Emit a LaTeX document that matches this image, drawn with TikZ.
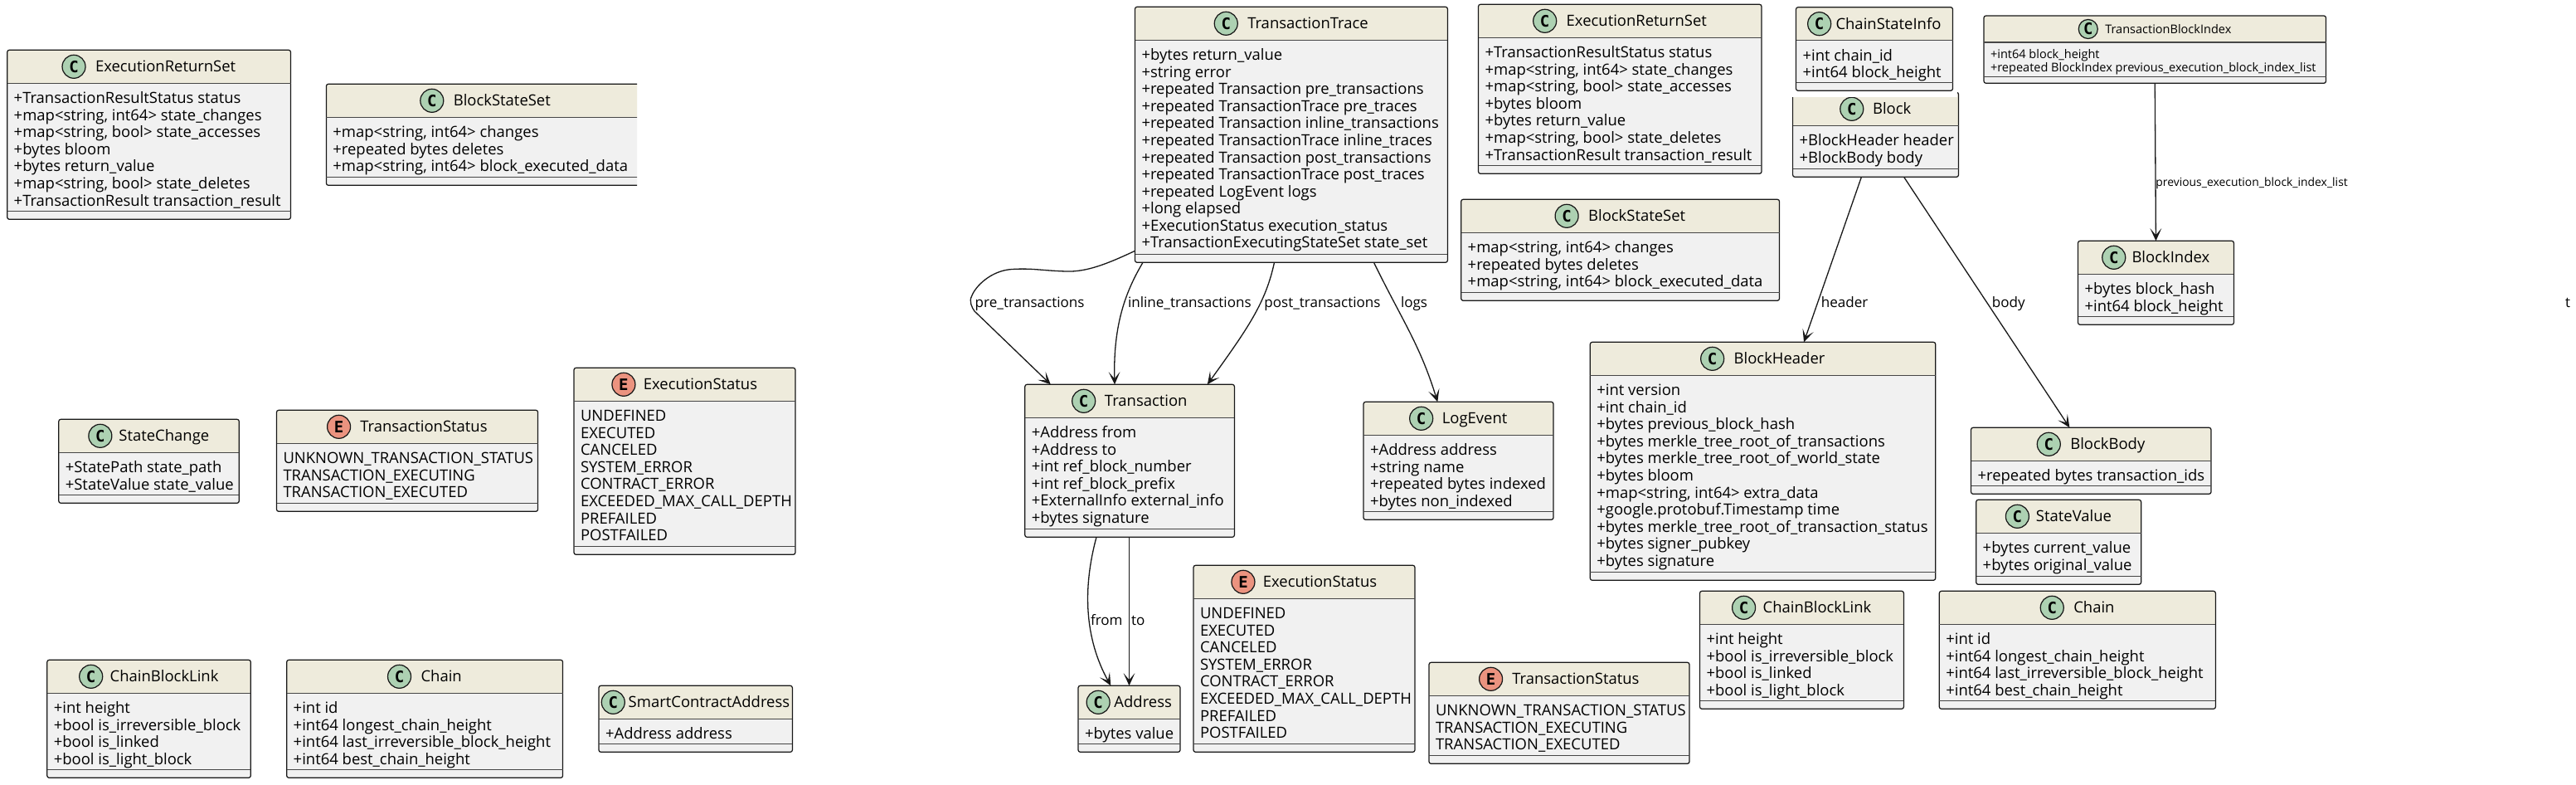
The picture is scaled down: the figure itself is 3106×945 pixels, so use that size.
\documentclass[tikz,border=0pt]{standalone}
\usepackage{fontspec}
\setmainfont{Open Sans}
\newfontfamily\iconfont{DejaVu Sans Mono}
\usetikzlibrary{arrows.meta}

\definecolor{classhead}{HTML}{EEEBDC}
\definecolor{classbody}{HTML}{F1F1F1}
\definecolor{classink}{HTML}{181818}
\definecolor{classicon}{HTML}{ADD1B2}
\definecolor{enumicon}{HTML}{EB937F}

\newcommand{\classfont}{\fontsize{5.25}{5.85}\selectfont}
\newcommand{\labelfont}{\fontsize{4.85}{5.5}\selectfont}
\newcommand{\hdrh}{40}
\newcommand{\sepgap}{10}
\newcommand{\iconw}{28}
\newcommand{\maxgap}{12}
\newcommand{\bodypad}{9.6}
\newcommand{\titledrop}{6.3}
\newsavebox{\titlebox}
\newlength{\titlelen}

% kind colour, letter, name, x1, y1, x2, y2, title, members
\newcommand{\classbox}[9]{
  \setbox\titlebox=\hbox{\pgfinterruptpicture\classfont #8\endpgfinterruptpicture}
  \setlength{\titlelen}{\wd\titlebox}
  \pgfmathsetmacro{\titlew}{\titlelen*3.515}
  \pgfmathsetmacro{\titlegap}{min(\maxgap,4+0.06*(#6-#4-\iconw-\titlew-4))}
  \pgfmathsetmacro{\titlex}{(#4+#6)/2-(\iconw+\titlegap+\titlew)/2}
  \node[classframe,minimum width={(#6-#4)*0.01cm},minimum height={(#7-#5)*0.01cm},
    path picture={\fill[classhead] (path picture bounding box.north west) rectangle
      ([shift={(0,\hdrh)}]path picture bounding box.north east);}]
    (#3) at ({(#4+#6)/2},{(#5+#7)/2}) {};
  \draw[classline] ([shift={(0,\hdrh)}]#3.north west) -- ([shift={(0,\hdrh)}]#3.north east);
  \draw[classline] ([shift={(0,-\sepgap)}]#3.south west) -- ([shift={(0,-\sepgap)}]#3.south east);
  \node[iconmark,fill=#1,minimum size={\iconw*0.01cm}] (#3icon) at ({\titlex+\iconw/2},{#5+\hdrh/2}) {#2};
  \node[classtext,anchor=base west] (#3title) at ({\titlex+\iconw+\titlegap},{#5+\hdrh/2+\titledrop}) {#8};
  \node[classtext,anchor=north west,align=left] (#3body) at ({#4+8},{#5+\hdrh+\bodypad}) {\rule{0pt}{0.8em}#9};
}

\begin{document}
\begin{tikzpicture}[x=0.01cm,y=-0.01cm,
classframe/.style={draw=classink,fill=classbody,rectangle,rounded corners=0.025cm,inner sep=0pt,outer sep=0pt,line width=0.35pt},
classline/.style={draw=classink!80,line width=0.35pt},
classtext/.style={inner sep=0pt,outer sep=0pt,font=\classfont,text=black},
iconmark/.style={draw=classink,circle,inner sep=0pt,outer sep=0pt,line width=0.35pt,font=\iconfont\bfseries\fontsize{5.4}{6}\selectfont},
edgelabel/.style={inner sep=0pt,outer sep=0pt,font=\labelfont,anchor=base west},
conn/.style={draw=classink,line width=0.37pt,-{Stealth[length=4.3pt,width=3.9pt,inset=2.3pt]}}]

\useasboundingbox (0,0) rectangle (3106,945);

% left group
\classbox{classicon}{C}{execset}{8.7}{60.3}{350.5}{264.3}{ExecutionReturnSet}{+TransactionResultStatus status\\+map<string, int64> state\_changes\\+map<string, bool> state\_accesses\\+bytes bloom\\+bytes return\_value\\+map<string, bool> state\_deletes\\+TransactionResult transaction\_result}
\begin{scope}
\clip (0,0) rectangle (768,945);
\classbox{classicon}{C}{blockset}{393.4}{101.3}{777.2}{223.3}{BlockStateSet}{+map<string, int64> changes\\+repeated bytes deletes\\+map<string, int64> block\_executed\_data}
\end{scope}
\classbox{classicon}{C}{statechange}{70.8}{505.3}{288.3}{606.3}{StateChange}{+StatePath state\_path\\+StateValue state\_value}
\classbox{enumicon}{E}{txstatus}{333.5}{494.3}{648.6}{616.3}{TransactionStatus}{UNKNOWN\_TRANSACTION\_STATUS\\TRANSACTION\_EXECUTING\\TRANSACTION\_EXECUTED}
\classbox{enumicon}{E}{execstatus}{692}{443.3}{959}{668.3}{ExecutionStatus}{UNDEFINED\\EXECUTED\\CANCELED\\SYSTEM\_ERROR\\CONTRACT\_ERROR\\EXCEEDED\_MAX\_CALL\_DEPTH\\PREFAILED\\POSTFAILED}
\classbox{classicon}{C}{chainlink}{56.8}{795.3}{302.3}{937.3}{ChainBlockLink}{+int height\\+bool is\_irreversible\_block\\+bool is\_linked\\+bool is\_light\_block}
\classbox{classicon}{C}{chain}{345.7}{795.3}{678.6}{937.3}{Chain}{+int id\\+int64 longest\_chain\_height\\+int64 last\_irreversible\_block\_height\\+int64 best\_chain\_height}
\classbox{classicon}{C}{contractaddr}{722}{826.3}{955.4}{906.3}{SmartContractAddress}{+Address address}

% trace group
\classbox{classicon}{C}{trace}{1368.5}{8.3}{1745.4}{316.3}{TransactionTrace}{+bytes return\_value\\+string error\\+repeated Transaction pre\_transactions\\+repeated TransactionTrace pre\_traces\\+repeated Transaction inline\_transactions\\+repeated TransactionTrace inline\_traces\\+repeated Transaction post\_transactions\\+repeated TransactionTrace post\_traces\\+repeated LogEvent logs\\+long elapsed\\+ExecutionStatus execution\_status\\+TransactionExecutingStateSet state\_set}
\classbox{classicon}{C}{tx}{1235.8}{463.3}{1488.4}{647.3}{Transaction}{+Address from\\+Address to\\+int ref\_block\_number\\+int ref\_block\_prefix\\+ExternalInfo external\_info\\+bytes signature}
\classbox{classicon}{C}{logevent}{1644}{484.3}{1873}{626.3}{LogEvent}{+Address address\\+string name\\+repeated bytes indexed\\+bytes non\_indexed}
\classbox{classicon}{C}{addr}{1300}{826.3}{1423}{906.3}{Address}{+bytes value}
\classbox{enumicon}{E}{execstatusb}{1439}{681.3}{1706}{906.3}{ExecutionStatus}{UNDEFINED\\EXECUTED\\CANCELED\\SYSTEM\_ERROR\\CONTRACT\_ERROR\\EXCEEDED\_MAX\_CALL\_DEPTH\\PREFAILED\\POSTFAILED}
\classbox{enumicon}{E}{txstatusb}{1723}{798.3}{2037}{920.3}{TransactionStatus}{UNKNOWN\_TRANSACTION\_STATUS\\TRANSACTION\_EXECUTING\\TRANSACTION\_EXECUTED}

% block group
\classbox{classicon}{C}{execsetb}{1782.5}{5.3}{2124}{209.3}{ExecutionReturnSet}{+TransactionResultStatus status\\+map<string, int64> state\_changes\\+map<string, bool> state\_accesses\\+bytes bloom\\+bytes return\_value\\+map<string, bool> state\_deletes\\+TransactionResult transaction\_result}
\classbox{classicon}{C}{blocksetb}{1761.7}{240.3}{2145.5}{362.3}{BlockStateSet}{+map<string, int64> changes\\+repeated bytes deletes\\+map<string, int64> block\_executed\_data}
\classbox{classicon}{C}{block}{2161.6}{111.3}{2361.5}{213.3}{Block}{+BlockHeader header\\+BlockBody body}
\fill[white] (2158,109) rectangle (2360,117);
\classbox{classicon}{C}{chaininfo}{2165.5}{8.7}{2354.5}{109.3}{ChainStateInfo}{+int chain\_id\\+int64 block\_height}
\classbox{classicon}{C}{blockheader}{1917.3}{412.3}{2333.7}{699.3}{BlockHeader}{+int version\\+int chain\_id\\+bytes previous\_block\_hash\\+bytes merkle\_tree\_root\_of\_transactions\\+bytes merkle\_tree\_root\_of\_world\_state\\+bytes bloom\\+map<string, int64> extra\_data\\+google.protobuf.Timestamp time\\+bytes merkle\_tree\_root\_of\_transaction\_status\\+bytes signer\_pubkey\\+bytes signature}
\classbox{classicon}{C}{blockbody}{2376.5}{515.3}{2666}{595.3}{BlockBody}{+repeated bytes transaction\_ids}
\classbox{classicon}{C}{statevalue}{2382.7}{602.3}{2581.6}{704.3}{StateValue}{+bytes current\_value\\+bytes original\_value}
\classbox{classicon}{C}{chainlinkb}{2049.5}{712.3}{2295.4}{854.3}{ChainBlockLink}{+int height\\+bool is\_irreversible\_block\\+bool is\_linked\\+bool is\_light\_block}
\classbox{classicon}{C}{chainb}{2338.3}{712.3}{2671.4}{854.3}{Chain}{+int id\\+int64 longest\_chain\_height\\+int64 last\_irreversible\_block\_height\\+int64 best\_chain\_height}
\classbox{classicon}{C}{blockindex}{2505.5}{290.3}{2693.4}{391.3}{BlockIndex}{+bytes block\_hash\\+int64 block\_height}

% smaller box
\begin{scope}
\renewcommand{\classfont}{\fontsize{4.13}{4.63}\selectfont}
\renewcommand{\hdrh}{32}
\renewcommand{\sepgap}{8}
\renewcommand{\iconw}{23}
\renewcommand{\maxgap}{9}
\renewcommand{\bodypad}{7.5}
\renewcommand{\titledrop}{5}
\classbox{classicon}{C}{txindex}{2392}{19}{2804.5}{100.3}{TransactionBlockIndex}{+int64 block\_height\\+repeated BlockIndex previous\_execution\_block\_index\_list}
\end{scope}

% connectors
\draw[conn] ([shift={(0,-14)}]trace.south west) .. controls (1335,318) and (1310,328) .. (1285,327)
  .. controls (1255,326) and (1245,323) .. (1220,324.5) .. controls (1195,326) and (1176,345) .. (1171.7,356.7)
  .. controls (1168,363) and (1172,371) .. (1175,375) -- ([shift={(31,0)}]tx.north west);
\draw[conn] ([shift={(9.5,0)}]trace.south west) .. controls (1358,350) and (1342,390) .. ([shift={(108.2,0)}]tx.north west);
\draw[conn] ([shift={(168,0)}]trace.south west) .. controls (1526,365) and (1505,395) .. ([shift={(220,0)}]tx.north west);
\draw[conn] ([shift={(288,0)}]trace.south west) .. controls (1690,385) and (1712,415) .. ([shift={(89.3,0)}]logevent.north west);
\draw[conn] ([shift={(86.2,0)}]tx.south west) .. controls (1305,710) and (1308,770) .. ([shift={(39.3,0)}]addr.north west);
\draw[conn] (addr.north |- tx.south) -- (addr.north);
\draw[conn] ([shift={(82.8,0)}]block.south west) -- ([shift={(257.7,0)}]blockheader.north west);
\draw[conn] ([shift={(134,0)}]block.south west) -- ([shift={(118.9,0)}]blockbody.north west);
\draw[conn] (txindex.south) -- (blockindex.north);

% connector labels
\node[edgelabel] (lblpre) at (1175.7,370) {pre\_transactions};
\node[edgelabel] (lblinline) at (1360,370) {inline\_transactions};
\node[edgelabel] (lblpost) at (1524.4,370) {post\_transactions};
\node[edgelabel] (lbllogs) at (1689,370) {logs};
\node[edgelabel] (lblfrom) at (1315,753) {from};
\node[edgelabel] (lblto) at (1364,753) {to};
\node[edgelabel] (lblheader) at (2195.8,370) {header};
\node[edgelabel] (lblbody) at (2401.8,370) {body};
\node[edgelabel,font=\fontsize{3.95}{4.6}\selectfont] (lblindex) at (2599.4,224.7) {previous\_execution\_block\_index\_list};
\node[edgelabel] (lblstray) at (3093,370) {t};
\end{tikzpicture}
\end{document}
